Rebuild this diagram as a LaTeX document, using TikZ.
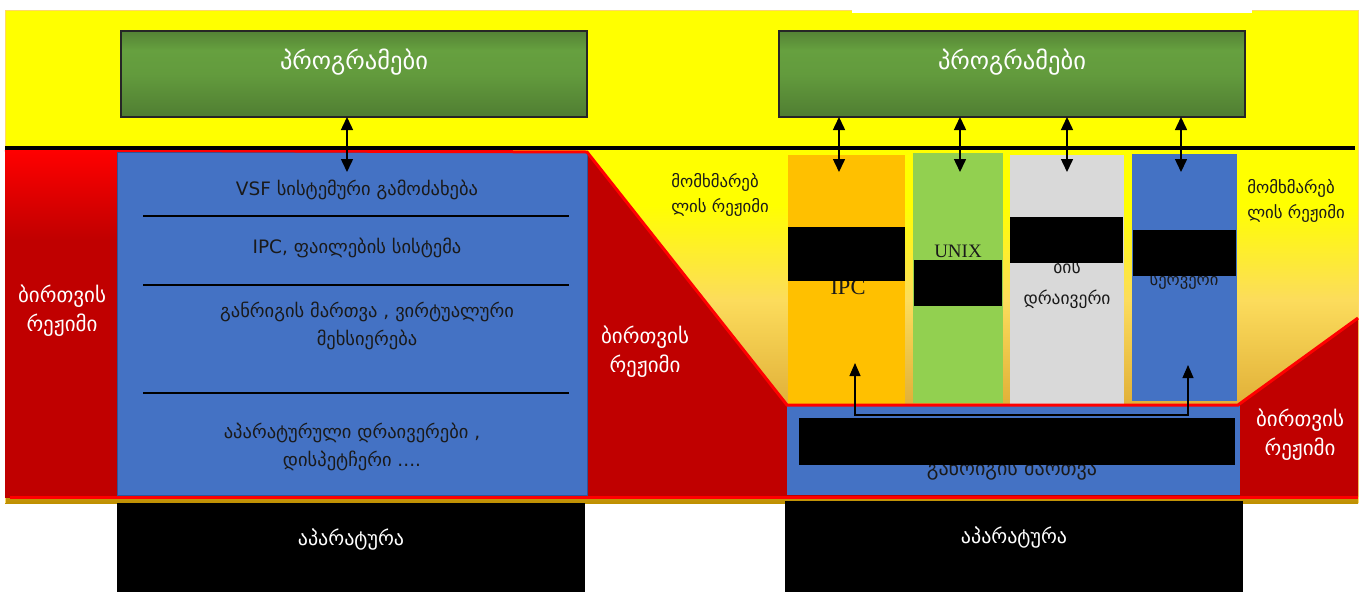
\documentclass[tikz,border=0pt]{standalone}
\usepackage{fontspec}
\setmainfont{DejaVu Sans}
\newfontfamily\latinserif{Liberation Serif}
\usetikzlibrary{arrows.meta}

\definecolor{bgyellow}{HTML}{FFFF00}
\definecolor{bggold}{HTML}{BF9000}
\definecolor{bgstrip}{HTML}{C89A18}
\definecolor{bgmid}{HTML}{E2B23A}
\definecolor{bglight}{HTML}{FCDC5C}
\definecolor{bgedge}{HTML}{FFD966}
\definecolor{kred}{HTML}{C00000}
\definecolor{bred}{HTML}{FF0000}
\definecolor{kblue}{HTML}{4472C4}
\definecolor{kblueedge}{HTML}{2F5597}
\definecolor{korange}{HTML}{FFC000}
\definecolor{klime}{HTML}{92D050}
\definecolor{kgray}{HTML}{D9D9D9}
\definecolor{gtop}{HTML}{548235}
\definecolor{gmid}{HTML}{66A03F}
\definecolor{gbot}{HTML}{507E32}
\definecolor{ink}{HTML}{1A1A1A}

% shadings: the path spans 25bp (bottom) .. 75bp (top)
\pgfdeclareverticalshading{bgfade}{100bp}{color(0bp)=(bggold); color(25bp)=(bggold); color(26.5bp)=(bgstrip); color(39.5bp)=(bgmid); color(53.6bp)=(bglight); color(67bp)=(bgyellow); color(100bp)=(bgyellow)}
\pgfdeclareverticalshading{redfade}{100bp}{color(0bp)=(kred); color(62bp)=(kred); color(75bp)=(bred); color(100bp)=(bred)}
\pgfdeclareverticalshading{greenfade}{100bp}{color(0bp)=(gbot); color(25bp)=(gbot); color(50bp)=(gmid!85!gbot); color(64bp)=(gmid); color(75bp)=(gtop); color(100bp)=(gtop)}

\tikzset{
  blockbox/.style={rectangle, inner sep=0pt, outer sep=0pt},
  progbox/.style={blockbox, shading=greenfade, draw=black!85, line width=1.2pt,
                  minimum width=466pt, minimum height=86pt},
  progtext/.style={text=white, font=\fontsize{24.5}{28}\selectfont, inner sep=0pt},
  layertext/.style={text=ink, font=\fontsize{18.5}{28}\selectfont, align=center, inner sep=0pt},
  modewhite/.style={text=white, font=\fontsize{21}{29}\selectfont, align=center, inner sep=0pt},
  modeblack/.style={text=ink, font=\fontsize{16.8}{25}\selectfont, align=left, inner sep=0pt},
  coltext/.style={text=ink, inner sep=0pt},
  hidebox/.style={blockbox, fill=black},
  hwbox/.style={blockbox, fill=black},
  hwtext/.style={text=white, font=\fontsize{20}{22}\selectfont, inner sep=0pt},
  sepline/.style={black, line width=1.5pt},
  dbl/.style={line width=1.5pt, {Triangle[length=13pt,width=12pt]}-{Triangle[length=13pt,width=12pt]}},
  link/.style={line width=1.1pt, {Triangle[length=13pt,width=11pt]}-{Triangle[length=13pt,width=11pt]}},
}

\begin{document}
\begin{tikzpicture}[x=1pt,y=-1pt]
\useasboundingbox (0,0) rectangle (1364,592);

% user-mode background
\fill[bgyellow] (5,10) rectangle (1358,150);
\shade[shading=bgfade] (5,148) rectangle (1358,503);
\draw[bgedge, line width=0.8pt] (5,503) -- (5,10) -- (1358,10) -- (1358,503);
\fill[white] (852,7) rectangle (1252,12.5);

% kernel-mode region
\fill[kred] (5,150) -- (587,152) -- (787,405) -- (1238,405) -- (1358,318) -- (1358,497) -- (5,497) -- cycle;
\shade[shading=redfade] (5,150) rectangle (117,497);

% monolithic kernel block
\node[blockbox, fill=kblue, draw=kblueedge, line width=1pt, minimum width=470pt, minimum height=343pt] (kern) at (352,323.5) {};
% scheduler block of the microkernel
\node[blockbox, fill=kblue, minimum width=453pt, minimum height=90pt] (sched) at (1013.5,450) {};

% user-mode servers
\node[blockbox, fill=korange, minimum width=117pt, minimum height=250pt] (srvA) at (846.5,280) {};
\node[blockbox, fill=klime, minimum width=90pt, minimum height=250pt] (srvB) at (958,278) {};
\node[blockbox, fill=kgray, minimum width=114pt, minimum height=250pt] (srvC) at (1067,280) {};
\node[blockbox, fill=kblue, minimum width=105pt, minimum height=247pt] (srvD) at (1184.5,277.5) {};

% kernel-mode outline
\draw[bred, line width=3pt, line join=miter] (5,150) -- (587,152) -- (787,405) -- (1238,405) -- (1358,318);
\draw[bred, line width=3pt] (10,497) -- (1358,497);

% user/kernel boundary
\draw[black, line width=4pt] (5,148) -- (1355,148);

% programs
\node[progbox] (progL) at (354,74) {};
\node[progbox] (progR) at (1012,74) {};
\node[progtext] (progLt) at (354,62) {პროგრამები};
\node[progtext] (progRt) at (1012,62) {პროგრამები};

% layers of the monolithic kernel
\node[layertext] (l1) at (357,190) {VSF სისტემური გამოძახება};
\node[layertext] (l2) at (357,248) {IPC, ფაილების სისტემა};
\node[layertext] (l3) at (367,326) {განრიგის მართვა , ვირტუალური\\მეხსიერება};
\node[layertext] (l4) at (352,447) {აპარატურული დრაივერები ,\\დისპეტჩერი ....};
\coordinate (s1) at (143,216);
\coordinate (s2) at (143,285);
\coordinate (s3) at (143,393);
\draw[sepline] (s1) -- (s1 -| 569,0);
\draw[sepline] (s2) -- (s2 -| 569,0);
\draw[sepline] (s3) -- (s3 -| 569,0);

% mode labels
\node[modewhite] (kmL) at (62,311) {ბირთვის\\რეჟიმი};
\node[modewhite] (kmM) at (645,352) {ბირთვის\\რეჟიმი};
\node[modewhite] (kmR) at (1300,435) {ბირთვის\\რეჟიმი};
\node[modeblack] (umM) at (720,195) {მომხმარებ\\ლის რეჟიმი};
\node[modeblack] (umR) at (1296,201) {მომხმარებ\\ლის რეჟიმი};

% server labels
\node[coltext, font=\latinserif\fontsize{22.5}{24}\selectfont] (tA) at (848,287) {IPC};
\node[coltext, font=\latinserif\fontsize{19}{22}\selectfont] (tB) at (958,251) {UNIX};
\node[coltext, font=\fontsize{17.5}{31}\selectfont, align=center] (tC) at (1067,284) {ბის\\დრაივერი};
\node[coltext, font=\fontsize{16.5}{18}\selectfont] (tD) at (1184,281) {სერვერი};
\node[coltext, font=\fontsize{20}{22}\selectfont] (tE) at (1012,469) {განრიგის მართვა};

% system calls
\coordinate (aL) at (347,172);
\coordinate (a1) at (839,172);
\coordinate (a2) at (960,172);
\coordinate (a3) at (1067,172);
\coordinate (a4) at (1181,172);
\draw[dbl] (aL |- progL.south) -- (aL);
\draw[dbl] (a1 |- progR.south) -- (a1);
\draw[dbl] (a2 |- progR.south) -- (a2);
\draw[dbl] (a3 |- progR.south) -- (a3);
\draw[dbl] (a4 |- progR.south) -- (a4);

% message passing through the microkernel
\coordinate (q1) at (855,363);
\coordinate (q4) at (1188,365);
\coordinate (qb) at (0,415);
\draw[link] (q1) -- (q1 |- qb) -- (q4 |- qb) -- (q4);

% blacked-out captions
\node[hidebox, minimum width=117pt, minimum height=54pt] (hA) at (846.5,254) {};
\node[hidebox, minimum width=88pt, minimum height=46pt] (hB) at (958,283) {};
\node[hidebox, minimum width=113pt, minimum height=46pt] (hC) at (1066.5,240) {};
\node[hidebox, minimum width=103pt, minimum height=46pt] (hD) at (1184.5,253) {};
\node[hidebox, minimum width=436pt, minimum height=47pt] (hE) at (1017,441.5) {};

% hardware
\node[hwbox, minimum width=468pt, minimum height=89pt] (hwL) at (351,547.5) {};
\node[hwbox, minimum width=458pt, minimum height=91pt] (hwR) at (1014,546.5) {};
\node[hwtext] (hwLt) at (351,540) {აპარატურა};
\node[hwtext] (hwRt) at (1014,538) {აპარატურა};
\end{tikzpicture}
\end{document}
